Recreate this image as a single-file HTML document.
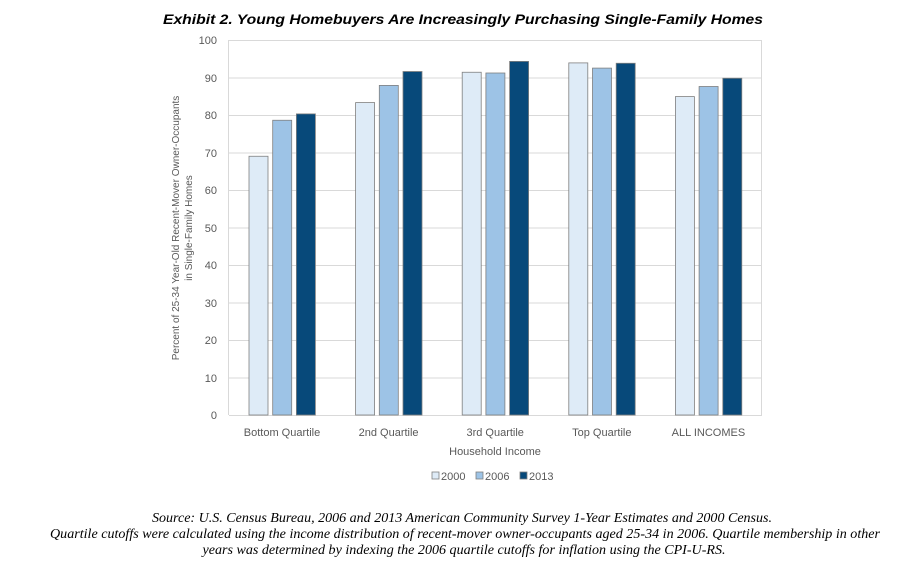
<!DOCTYPE html>
<html><head><meta charset="utf-8"><style>
html,body{margin:0;padding:0;background:#fff;}
svg{display:block;}
</style></head><body>
<svg width="912" height="579" xmlns="http://www.w3.org/2000/svg" font-family="Liberation Sans, sans-serif">
<text x="463" y="24" text-anchor="middle" font-weight="bold" font-style="italic" font-size="14" textLength="600" lengthAdjust="spacingAndGlyphs">Exhibit 2.  Young Homebuyers Are Increasingly Purchasing Single-Family Homes</text>
<g stroke="#d9d9d9" stroke-width="1">
<line x1="229" y1="40.5" x2="762" y2="40.5"/>
<line x1="229" y1="78" x2="762" y2="78"/>
<line x1="229" y1="115.5" x2="762" y2="115.5"/>
<line x1="229" y1="153" x2="762" y2="153"/>
<line x1="229" y1="190.5" x2="762" y2="190.5"/>
<line x1="229" y1="228" x2="762" y2="228"/>
<line x1="229" y1="265.5" x2="762" y2="265.5"/>
<line x1="229" y1="303" x2="762" y2="303"/>
<line x1="229" y1="340.5" x2="762" y2="340.5"/>
<line x1="229" y1="378" x2="762" y2="378"/>
<line x1="229" y1="415.5" x2="762" y2="415.5"/>
<line x1="228.5" y1="40" x2="228.5" y2="415"/>
<line x1="761.5" y1="40" x2="761.5" y2="415"/>
</g>
<g font-size="11" fill="#595959" text-anchor="end">
<text x="217" y="44">100</text><text x="217" y="82">90</text><text x="217" y="119">80</text><text x="217" y="157">70</text><text x="217" y="194">60</text><text x="217" y="232">50</text><text x="217" y="269">40</text><text x="217" y="307">30</text><text x="217" y="344">20</text><text x="217" y="382">10</text><text x="217" y="419">0</text>
</g>
<text transform="translate(179,228) rotate(-90)" text-anchor="middle" font-size="10" fill="#595959">Percent of 25-34 Year-Old Recent-Mover Owner-Occupants</text>
<text transform="translate(192,228) rotate(-90)" text-anchor="middle" font-size="10" fill="#595959">in Single-Family Homes</text>
<g stroke="#7f7f7f" stroke-width="0.8">
<rect x="249" y="156.25" width="19" height="258.75" fill="#deebf7"/>
<rect x="272.7" y="120.25" width="19" height="294.75" fill="#9dc3e6"/>
<rect x="296.4" y="113.9" width="19" height="301.1" fill="#07497a"/>
<rect x="355.6" y="102.6" width="19" height="312.4" fill="#deebf7"/>
<rect x="379.3" y="85.4" width="19" height="329.6" fill="#9dc3e6"/>
<rect x="403" y="71.5" width="19" height="343.5" fill="#07497a"/>
<rect x="462.2" y="72.25" width="19" height="342.75" fill="#deebf7"/>
<rect x="485.9" y="73" width="19" height="342" fill="#9dc3e6"/>
<rect x="509.6" y="61.4" width="19" height="353.6" fill="#07497a"/>
<rect x="568.8" y="62.9" width="19" height="352.1" fill="#deebf7"/>
<rect x="592.5" y="68.1" width="19" height="346.9" fill="#9dc3e6"/>
<rect x="616.2" y="63.25" width="19" height="351.75" fill="#07497a"/>
<rect x="675.4" y="96.6" width="19" height="318.4" fill="#deebf7"/>
<rect x="699.1" y="86.5" width="19" height="328.5" fill="#9dc3e6"/>
<rect x="722.8" y="78.25" width="19" height="336.75" fill="#07497a"/>
</g>
<g font-size="11" fill="#595959" text-anchor="middle">
<text x="282" y="436">Bottom Quartile</text>
<text x="388.6" y="436">2nd Quartile</text>
<text x="495.2" y="436">3rd Quartile</text>
<text x="601.8" y="436">Top Quartile</text>
<text x="708.4" y="436">ALL INCOMES</text>
<text x="495" y="455">Household Income</text>
</g>
<g font-size="11" fill="#595959">
<rect x="432" y="472" width="7" height="7" fill="#deebf7" stroke="#7f7f7f" stroke-width="0.8"/><text x="441" y="480">2000</text>
<rect x="476" y="472" width="7" height="7" fill="#9dc3e6" stroke="#7f7f7f" stroke-width="0.8"/><text x="485" y="480">2006</text>
<rect x="520" y="472" width="7" height="7" fill="#07497a" stroke="#7f7f7f" stroke-width="0.8"/><text x="529" y="480">2013</text>
</g>
<g font-family="Liberation Serif, serif" font-style="italic" font-size="14" text-anchor="middle" fill="#000">
<text x="462" y="522" textLength="620" lengthAdjust="spacingAndGlyphs">Source: U.S. Census Bureau, 2006 and 2013 American Community Survey 1-Year Estimates and 2000 Census.</text>
<text x="465" y="538" textLength="830" lengthAdjust="spacingAndGlyphs">Quartile cutoffs were calculated using the income distribution of recent-mover owner-occupants aged 25-34 in 2006. Quartile membership in other</text>
<text x="464" y="554" textLength="523" lengthAdjust="spacingAndGlyphs">years was determined by indexing the 2006 quartile cutoffs for inflation using the CPI-U-RS.</text>
</g>
</svg>
</body></html>
